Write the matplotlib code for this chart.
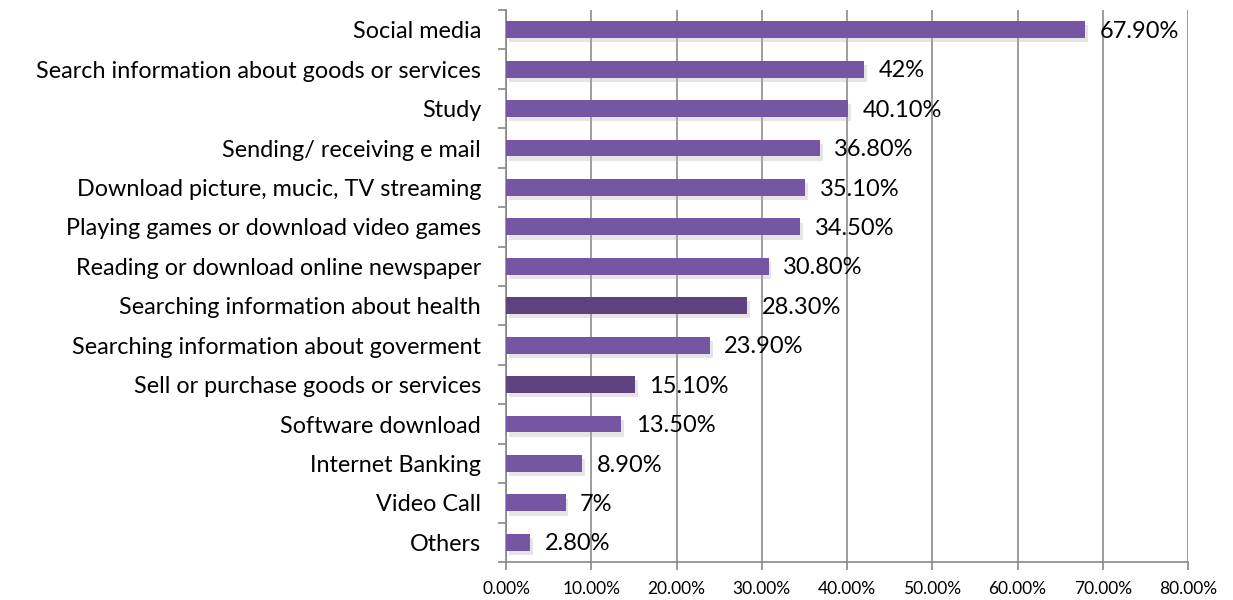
import matplotlib.pyplot as plt
import matplotlib.patheffects as pe
from matplotlib.ticker import FixedLocator

plt.rcParams['font.family'] = ['Lato', 'DejaVu Sans']

categories = ["Social media", "Search information about goods or services", "Study",
              "Sending/ receiving e mail", "Download picture, mucic, TV streaming",
              "Playing games or download video games", "Reading or download online newspaper",
              "Searching information about health", "Searching information about goverment",
              "Sell or purchase goods or services", "Software download", "Internet Banking",
              "Video Call", "Others"]
values = [67.9, 42, 40.1, 36.8, 35.1, 34.5, 30.8, 28.3, 23.9, 15.1, 13.5, 8.9, 7, 2.8]
value_labels = ["67.90%", "42%", "40.10%", "36.80%", "35.10%", "34.50%", "30.80%",
                "28.30%", "23.90%", "15.10%", "13.50%", "8.90%", "7%", "2.80%"]
xticks = [0, 10, 20, 30, 40, 50, 60, 70, 80]
xtick_labels = ["0.00%", "10.00%", "20.00%", "30.00%", "40.00%", "50.00%", "60.00%", "70.00%", "80.00%"]

dark = {"Searching information about health", "Sell or purchase goods or services"}
colors = ["#5d437f" if c in dark else "#7655a3" for c in categories]

fig = plt.figure(figsize=(12.33, 6), dpi=100)
ax = fig.add_axes([0.4104, 0.0633, 0.5531, 0.92])

ypos = list(range(len(categories)))
bars = ax.barh(ypos, values, height=0.43, color=colors, zorder=3)
for b in bars:
    b.set_path_effects([pe.SimplePatchShadow(offset=(2, -3), shadow_rgbFace="#aaaaaa", alpha=0.3), pe.Normal()])

for y, v, lab in zip(ypos, values, value_labels):
    ax.text(v + 1.7, y + 0.04, lab, va="center", ha="left", fontsize=17, zorder=4)

ax.set_xlim(0, 80)
ax.set_ylim(len(categories) - 0.5, -0.5)
ax.set_xticks(xticks)
ax.set_xticklabels(xtick_labels, fontsize=12.5)
ax.set_yticks(ypos)
ax.set_yticklabels(categories, fontsize=16.8)
ax.tick_params(axis="y", length=0, pad=18)
ax.yaxis.set_minor_locator(FixedLocator([i - 0.5 for i in range(len(categories) + 1)]))
ax.tick_params(axis="y", which="minor", length=6, width=1.2, color="#888888")
ax.tick_params(axis="x", length=6, width=1.2, color="#888888", pad=8)

ax.grid(axis="x", color="#8c8c8c", linewidth=1.2, zorder=0)
for s in ["top", "right"]:
    ax.spines[s].set_visible(False)
for s in ["left", "bottom"]:
    ax.spines[s].set_color("#888888")
    ax.spines[s].set_linewidth(1.2)

fig.savefig("out.png", dpi=100)
